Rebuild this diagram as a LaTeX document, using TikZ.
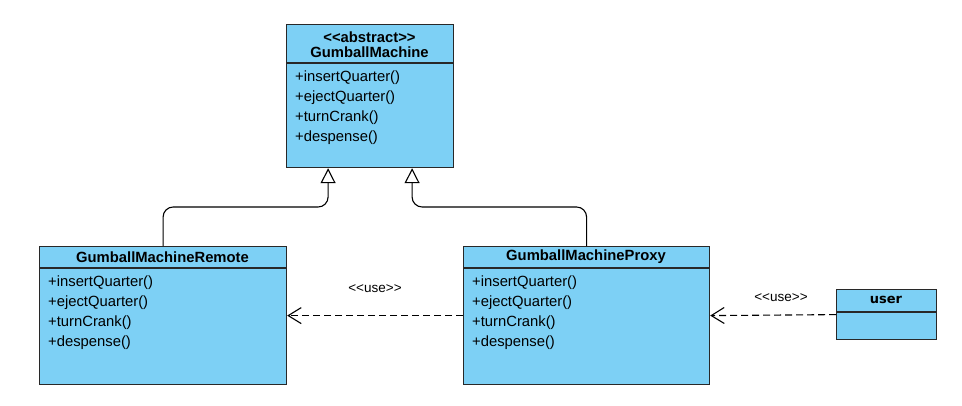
\documentclass[tikz,border=0pt]{standalone}
\usepackage{fontspec}
\setmainfont{Liberation Sans}[Ligatures=TeXOff]
\newfontfamily\dejavu{DejaVu Sans}
\usetikzlibrary{arrows.meta,calc}
\definecolor{umlblue}{RGB}{125,208,245}
\definecolor{umlline}{RGB}{40,40,40}
\tikzset{
  x=1pt,y=-1pt,
  umlbox/.style={draw=umlline,fill=umlblue,line width=1.2pt,inner sep=0pt,anchor=north west},
  divider/.style={draw=umlline,line width=1.2pt},
  headtxt/.style={font=\fontsize{14.8}{16}\selectfont\bfseries,inner sep=0pt},
  optxt/.style={font=\fontsize{14.8}{16}\selectfont,inner sep=0pt,anchor=west},
  gen/.style={draw=black,line width=1.1pt,rounded corners=10pt,-{Triangle[open,fill=white,width=15pt,length=15pt]}},
  dep/.style={draw=black,line width=1.1pt,dash pattern=on 7pt off 4pt,-{Straight Barb[length=13pt,width=16pt]}},
  lbl/.style={font=\fontsize{13.5}{15}\selectfont,inner sep=0pt}
}
\begin{document}
\begin{tikzpicture}
\useasboundingbox (0,0) rectangle (962,405);
% GumballMachine
\node[umlbox,minimum width=167pt,minimum height=143pt] (gm) at (286,24) {};
\draw[divider] (286,63) -- (453,63);
\node[headtxt] (gms) at (369.5,37) {<<abstract>>};
\node[headtxt] (gmn) at (369.5,52) {GumballMachine};
\node[optxt] (gm1) at (295,78) {+insertQuarter()};
\node[optxt] (gm2) at (295,98) {+ejectQuarter()};
\node[optxt] (gm3) at (295,118) {+turnCrank()};
\node[optxt] (gm4) at (295,138) {+despense()};
% Remote
\node[umlbox,minimum width=247pt,minimum height=138pt] (rem) at (39,246) {};
\draw[divider] (39,268) -- (286,268);
\node[headtxt] (remn) at (162.5,257) {GumballMachineRemote};
\node[optxt] (rem1) at (48,283) {+insertQuarter()};
\node[optxt] (rem2) at (48,303) {+ejectQuarter()};
\node[optxt] (rem3) at (48,323) {+turnCrank()};
\node[optxt] (rem4) at (48,343) {+despense()};
% Proxy
\node[umlbox,minimum width=246pt,minimum height=138pt] (prox) at (463,246) {};
\draw[divider] (463,268) -- (709,268);
\node[headtxt] (proxn) at (586,257) {GumballMachineProxy};
\node[optxt] (prox1) at (472,283) {+insertQuarter()};
\node[optxt] (prox2) at (472,303) {+ejectQuarter()};
\node[optxt] (prox3) at (472,323) {+turnCrank()};
\node[optxt] (prox4) at (472,343) {+despense()};
% user
\node[umlbox,minimum width=100pt,minimum height=50pt] (usr) at (836,289) {};
\draw[divider] (836,312) -- (936,312);
\node[font=\dejavu\fontsize{13}{15}\selectfont\bfseries,inner sep=0pt] (usrn) at (886,300) {user};
% generalizations
\draw[gen] (rem.north) -- ++(0,-39) -| ($(gm.south)+(-42,0)$);
\draw[gen] (prox.north) -- ++(0,-39) -| ($(gm.south)+(42,0)$);
% dependencies
\draw[dep] (prox.west) -- (rem.east);
\draw[dep] (usr.west) -- (prox.east);
\node[lbl] (l1) at (375,289) {<<use>>};
\node[lbl] (l2) at (781,298) {<<use>>};
\end{tikzpicture}
\end{document}
